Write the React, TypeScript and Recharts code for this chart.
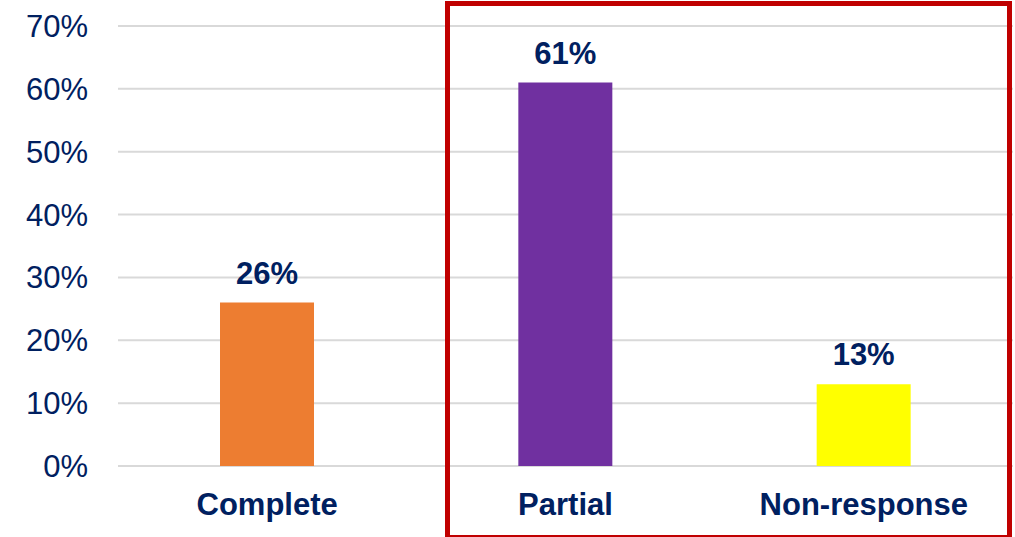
import React from 'react'
import { Bar, BarChart, CartesianGrid, Cell, LabelList, XAxis, YAxis } from 'recharts'

const categories = ['Complete', 'Partial', 'Non-response']
const shares = [0.26, 0.61, 0.13]
const barColors = ['#ED7D31', '#7030A0', '#FFFF00']
const yTicks = [0, 0.1, 0.2, 0.3, 0.4, 0.5, 0.6, 0.7]

const NAVY = '#002060'
const FONT = '"Liberation Sans", Arial, sans-serif'

const data = categories.map((name, i) => ({ name, share: shares[i] }))

const pct = (v: number): string => `${Math.round(v * 100)}%`

const App = () => {
    return (
        <div style={{ position: 'absolute', left: 0, top: 0, width: 1015, height: 537, background: '#fff', overflow: 'hidden' }}>
            <BarChart
                width={1015}
                height={537}
                data={data}
                margin={{ top: 26, right: 2, bottom: 0, left: 0 }}
                barCategoryGap={0}
            >
                <CartesianGrid vertical={false} stroke="#D9D9D9" strokeWidth={2} />
                <XAxis
                    dataKey="name"
                    axisLine={false}
                    tickLine={false}
                    tickSize={0}
                    tickMargin={27}
                    height={71}
                    interval={0}
                    tick={{ fill: NAVY, fontSize: 31, fontWeight: 'bold', fontFamily: FONT }}
                />
                <YAxis
                    width={118}
                    domain={[0, 0.7]}
                    ticks={yTicks}
                    axisLine={false}
                    tickLine={false}
                    tickSize={0}
                    tickMargin={30}
                    tickFormatter={pct}
                    tick={{ fill: NAVY, fontSize: 31, fontFamily: FONT }}
                />
                <Bar dataKey="share" barSize={94} isAnimationActive={false}>
                    {data.map((d, i) => (
                        <Cell key={d.name} fill={barColors[i]} />
                    ))}
                    <LabelList
                        dataKey="share"
                        position="top"
                        offset={19}
                        formatter={(v: any) => pct(Number(v))}
                        style={{ fill: NAVY, fontSize: 31, fontWeight: 'bold', fontFamily: FONT }}
                    />
                </Bar>
            </BarChart>
            {/* highlight box around the partial / non-response group */}
            <div
                style={{
                    position: 'absolute',
                    left: 445,
                    top: 1,
                    width: 567,
                    height: 539,
                    border: '5px solid #C00000',
                    boxSizing: 'border-box',
                    pointerEvents: 'none',
                }}
            />
        </div>
    )
}

export default App
